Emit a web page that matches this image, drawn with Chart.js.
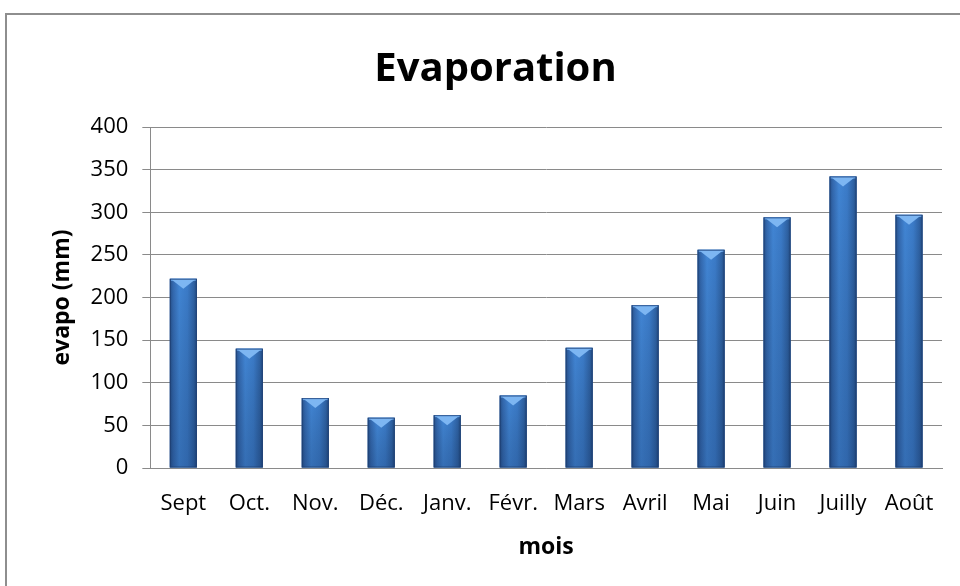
<!DOCTYPE html>
<html>
<head>
<meta charset="utf-8">
<script src="https://cdn.jsdelivr.net/npm/chart.js@4.4.1/dist/chart.umd.min.js"></script>
<style>
  html, body { margin: 0; padding: 0; background: #fff; }
  #wrap { position: relative; width: 960px; height: 586px; overflow: hidden; }
  #frame {
    position: absolute; left: 5px; top: 13px; width: 960px; height: 600px;
    border-left: 2px solid #8e8e8e; border-top: 2px solid #8e8e8e;
  }
  canvas { position: absolute; left: 0; top: 0; }
</style>
</head>
<body>
<div id="wrap">
  <div id="frame"></div>
  <canvas id="evapoChart" width="960" height="586"></canvas>
</div>
<script>
// monthly evaporation (mm)
const months = ["Sept", "Oct.", "Nov.", "Déc.", "Janv.", "Févr.", "Mars", "Avril", "Mai", "Juin", "Juilly", "Août"];
const evapo = [222, 140, 82, 59, 62, 85, 141, 191, 256, 294, 342, 297];
const yTicks = [0, 50, 100, 150, 200, 250, 300, 350, 400];

const FONT = "'Open Sans', sans-serif";

// paints the shaded, bevelled look on each bar
const bevelBars = {
  id: "bevelBars",
  afterDatasetsDraw(chart) {
    const ctx = chart.ctx;
    const meta = chart.getDatasetMeta(0);
    meta.data.forEach(bar => {
      const l = bar.x - bar.width / 2, r = bar.x + bar.width / 2;
      const t = bar.y, b = bar.base;
      ctx.save();
      const g = ctx.createLinearGradient(l, 0, r, 0);
      g.addColorStop(0, "#25508a");
      g.addColorStop(0.12, "#3368ae");
      g.addColorStop(0.35, "#4185d4");
      g.addColorStop(0.65, "#3b7bc8");
      g.addColorStop(0.88, "#2f63a5");
      g.addColorStop(1, "#234c83");
      ctx.fillStyle = g;
      ctx.fillRect(l, t, r - l, b - t);
      const v = ctx.createLinearGradient(0, t, 0, b);
      v.addColorStop(0, "rgba(0,0,0,0)");
      v.addColorStop(1, "rgba(10,30,70,0.22)");
      ctx.fillStyle = v;
      ctx.fillRect(l, t, r - l, b - t);
      // light top bevel
      ctx.fillStyle = "#6aa8ee";
      ctx.fillRect(l + 1, t, r - l - 2, 2);
      ctx.beginPath();
      ctx.moveTo(l + 2, t + 1);
      ctx.lineTo(r - 2, t + 1);
      ctx.lineTo(bar.x, t + 10);
      ctx.closePath();
      ctx.fillStyle = "#7db6f2";
      ctx.fill();
      ctx.strokeStyle = "rgba(30,60,110,0.7)";
      ctx.lineWidth = 1;
      ctx.strokeRect(l + 0.5, t + 0.5, r - l - 1, b - t - 1);
      ctx.restore();
    });
  }
};

new Chart(document.getElementById("evapoChart").getContext("2d"), {
  type: "bar",
  data: {
    labels: months,
    datasets: [{
      label: "evapo",
      data: evapo,
      backgroundColor: "#3a78c4",
      categoryPercentage: 1.0,
      barPercentage: 0.41
    }]
  },
  options: {
    responsive: false,
    animation: false,
    layout: { padding: { left: 49, right: 18, top: 33, bottom: 25 } },
    plugins: {
      legend: { display: false },
      tooltip: { enabled: false },
      title: {
        display: true,
        text: "Evaporation",
        color: "#000",
        font: { family: FONT, size: 40, weight: "bold" },
        padding: { top: 13, bottom: 33 }
      }
    },
    scales: {
      x: {
        grid: { display: false },
        border: { display: true, color: "#8a8a8a", width: 1 },
        ticks: { color: "#000", font: { family: FONT, size: 22 }, padding: 15, maxRotation: 0, autoSkip: false },
        title: {
          display: true,
          text: "mois",
          color: "#000",
          font: { family: FONT, size: 23, weight: "bold" },
          padding: { top: 1, bottom: 0 }
        }
      },
      y: {
        min: 0,
        max: 400,
        afterBuildTicks(axis) { axis.ticks = yTicks.map(v => ({ value: v })); },
        grid: { color: "#8a8a8a", lineWidth: 1, tickLength: 8 },
        border: { display: true, color: "#8a8a8a", width: 1 },
        ticks: { color: "#000", font: { family: FONT, size: 22 }, padding: 14 },
        title: {
          display: true,
          text: "evapo (mm)",
          color: "#000",
          font: { family: FONT, size: 23, weight: "bold" },
          padding: { top: 0, bottom: 0 }
        }
      }
    }
  },
  plugins: [bevelBars]
});
</script>
</body>
</html>
